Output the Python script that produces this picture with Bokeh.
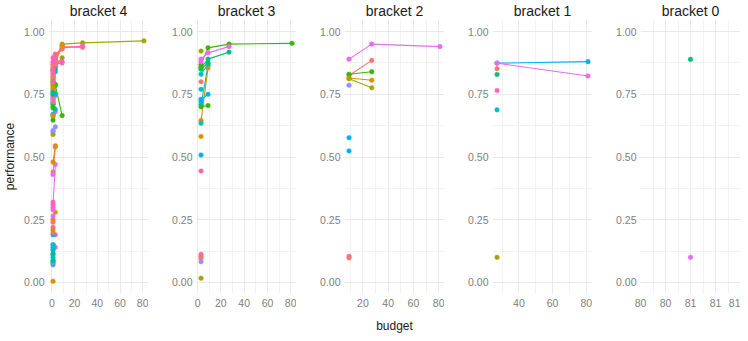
from bokeh.embed import file_html
from bokeh.layouts import row
from bokeh.models import ColumnDataSource, FixedTicker, Range1d, Title
from bokeh.plotting import figure
from bokeh.resources import INLINE

# ---------------------------------------------------------------- data
BUDGETS = [1, 3, 9, 27, 81]

# hue palette, one colour per level of the colour factor
LEVEL_COLOURS = ["#F8766D", "#D89000", "#A3A500", "#39B600", "#00BF7D",
                 "#00BFC4", "#00B0F6", "#9590FF", "#E76BF3", "#FF62BC"]

PANEL_TITLES = ["bracket 4", "bracket 3", "bracket 2", "bracket 1", "bracket 0"]

# index into BUDGETS of the first rung of each bracket
FIRST_RUNG = [0, 1, 2, 3, 4]

# each config: colour level and its performance at successive rungs
bracket4_level = [2, 0, 9, 1, 2, 9, 9, 0, 3,
                  8, 8, 9, 1, 0, 1, 7, 8, 6, 7, 6, 6, 9, 0, 1, 0, 9, 3, 4,
                  1, 7, 6, 7, 5, 4, 5, 5, 4, 6, 5, 6, 5, 6, 0, 1, 0, 8, 8,
                  9, 9, 8, 2, 7, 3, 1, 3, 4, 0, 8, 9, 3, 6, 4, 1, 2, 9, 2,
                  0, 9, 0, 9, 0, 9, 9]
bracket4_perf = [[0.80, 0.88, 0.95, 0.955, 0.963],
                 [0.84, 0.905, 0.94, 0.937],
                 [0.83, 0.89, 0.935, 0.942],
                 [0.79, 0.875, 0.945],
                 [0.78, 0.86, 0.895],
                 [0.76, 0.87, 0.875],
                 [0.74, 0.885, 0.88],
                 [0.77, 0.90, 0.93],
                 [0.85, 0.785, 0.665],
                 [0.31, 0.47], [0.13, 0.14], [0.22, 0.19], [0.25, 0.28],
                 [0.44, 0.54], [0.48, 0.545], [0.60, 0.62], [0.66, 0.68],
                 [0.67, 0.69], [0.72, 0.745], [0.73, 0.75], [0.80, 0.84],
                 [0.82, 0.86], [0.86, 0.91], [0.81, 0.895], [0.87, 0.905],
                 [0.845, 0.90], [0.70, 0.79], [0.71, 0.85],
                 [0.005], [0.07], [0.075], [0.08], [0.085], [0.09], [0.10],
                 [0.11], [0.115], [0.13], [0.14], [0.15], [0.15], [0.19],
                 [0.20], [0.21], [0.24], [0.265], [0.29], [0.30], [0.32],
                 [0.43], [0.59], [0.605], [0.647], [0.665], [0.695], [0.715],
                 [0.72], [0.735], [0.745], [0.75], [0.755], [0.76], [0.775],
                 [0.79], [0.80], [0.815], [0.82], [0.835], [0.845], [0.855],
                 [0.87], [0.88], [0.895]]

bracket3_level = [3, 8, 4, 5, 1, 6, 3, 5, 4,
                  2, 0, 5, 5, 1, 6, 9, 9, 0, 0, 7, 2, 3, 8, 6]
bracket3_perf = [[0.87, 0.935, 0.95, 0.953],
                 [0.89, 0.915, 0.94],
                 [0.855, 0.89, 0.918],
                 [0.71, 0.865],
                 [0.645, 0.855],
                 [0.73, 0.75],
                 [0.70, 0.705],
                 [0.83, 0.87],
                 [0.85, 0.875],
                 [0.922], [0.80], [0.77], [0.635], [0.582], [0.508], [0.444],
                 [0.112], [0.104], [0.096], [0.083], [0.017], [0.86], [0.88],
                 [0.72]]

bracket2_level = [8, 0, 3, 1, 2, 7, 6, 6, 9, 0]
bracket2_perf = [[0.89, 0.95, 0.94],
                 [0.825, 0.885],
                 [0.83, 0.84],
                 [0.815, 0.806],
                 [0.812, 0.776],
                 [0.786], [0.577], [0.524], [0.104], [0.098]]

bracket1_level = [6, 8, 0, 4, 9, 5, 2]
bracket1_perf = [[0.874, 0.88],
                 [0.874, 0.823],
                 [0.852], [0.829], [0.765], [0.688], [0.10]]

bracket0_level = [4, 8]
bracket0_perf = [[0.889], [0.10]]

# x axis breaks per panel
x_major = [[0, 20, 40, 60, 80], [0, 20, 40, 60, 80], [20, 40, 60, 80],
           [40, 60, 80], [80.5, 80.75, 81.0, 81.25, 81.5]]
x_minor = [[10, 30, 50, 70], [10, 30, 50, 70], [10, 30, 50, 70],
           [30, 50, 70], [80.625, 80.875, 81.125, 81.375]]
x_labels = [None, None, None, None, ["80", "80", "81", "81", "81"]]

y_major = [0.0, 0.25, 0.5, 0.75, 1.0]
y_minor = [0.125, 0.375, 0.625, 0.875]

LEVELS = [bracket4_level, bracket3_level, bracket2_level, bracket1_level, bracket0_level]
PERFS = [bracket4_perf, bracket3_perf, bracket2_perf, bracket1_perf, bracket0_perf]

# ---------------------------------------------------------------- layout
FRAME_W = 100
BORDER_L = 48
BORDER_T = 18
BORDER_B = 48
HEIGHT = 341
Y_LO, Y_HI = -0.044, 1.048

TEXT_DARK = "#1A1A1A"
TICK_GREY = "#808080"
FONT = "Liberation Sans"


def make_panel(i):
    levels, perfs, first = LEVELS[i], PERFS[i], FIRST_RUNG[i]

    xs, ys, cols = [], [], []
    line_xs, line_ys, line_cols = [], [], []
    for lvl, seq in zip(levels, perfs):
        bx = BUDGETS[first:first + len(seq)]
        xs.extend(bx)
        ys.extend(seq)
        cols.extend([LEVEL_COLOURS[lvl]] * len(seq))
        if len(seq) > 1:
            line_xs.append(list(bx))
            line_ys.append(list(seq))
            line_cols.append(LEVEL_COLOURS[lvl])

    lo, hi = min(xs), max(xs)
    if hi == lo:
        x_lo, x_hi = lo - 0.5, hi + 0.5
    else:
        pad = 0.05 * (hi - lo)
        x_lo, x_hi = lo - pad, hi + pad

    p = figure(width=BORDER_L + FRAME_W, height=HEIGHT,
               x_range=Range1d(x_lo, x_hi), y_range=Range1d(Y_LO, Y_HI),
               output_backend="svg", toolbar_location=None,
               min_border_left=BORDER_L, min_border_right=0,
               min_border_top=BORDER_T, min_border_bottom=BORDER_B)
    p.outline_line_color = None
    p.background_fill_color = "white"
    p.border_fill_color = "white"

    # facet strip title
    p.title.text = PANEL_TITLES[i]
    p.title.align = "center"
    p.title.text_font = FONT
    p.title.text_font_size = "14px"
    p.title.text_font_style = "normal"
    p.title.text_color = TEXT_DARK
    p.title.standoff = 1
    p.title.offset = 0

    p.xaxis.ticker = FixedTicker(ticks=x_major[i], minor_ticks=x_minor[i])
    p.yaxis.ticker = FixedTicker(ticks=y_major, minor_ticks=y_minor)
    if x_labels[i] is not None:
        p.xaxis.major_label_overrides = dict(zip(x_major[i], x_labels[i]))
    else:
        p.xaxis.major_label_overrides = {t: str(t) for t in x_major[i]}
    p.yaxis.major_label_overrides = {t: f"{t:.2f}" for t in y_major}

    for ax in (p.xaxis, p.yaxis):
        ax.axis_line_color = None
        ax.major_tick_line_color = None
        ax.minor_tick_line_color = None
        ax.major_tick_out = 0
        ax.minor_tick_out = 0
        ax.major_tick_in = 0
        ax.minor_tick_in = 0
        ax.major_label_text_color = TICK_GREY
        ax.major_label_text_font = FONT
        ax.major_label_text_font_size = "10.5px"
    p.yaxis.major_label_standoff = 4
    p.xaxis.major_label_standoff = 5

    for g in (p.xgrid, p.ygrid):
        g.grid_line_color = "#E9E9E9"
        g.grid_line_width = 1
        g.minor_grid_line_color = "#F2F2F2"
        g.minor_grid_line_width = 1

    if line_xs:
        p.multi_line(xs=line_xs, ys=line_ys, line_color=line_cols, line_width=1.1)
    src = ColumnDataSource(dict(x=xs, y=ys, c=cols))
    p.scatter("x", "y", source=src, size=4.6, fill_color="c", line_color="c",
              line_width=0.5)

    if i == 0:
        p.yaxis.axis_label = "performance"
        p.yaxis.axis_label_text_font = FONT
        p.yaxis.axis_label_text_font_size = "12px"
        p.yaxis.axis_label_text_font_style = "normal"
        p.yaxis.axis_label_text_color = TEXT_DARK
        p.yaxis.axis_label_standoff = 4
    if i == 2:
        p.add_layout(Title(text="budget", align="center", offset=-18,
                           text_font=FONT, text_font_size="12px",
                           text_font_style="normal", text_color=TEXT_DARK,
                           standoff=14), "below")
    return p


panels = [make_panel(i) for i in range(5)]
layout = row(*panels, spacing=0)

open("out.html", "w").write(file_html(layout, INLINE))
